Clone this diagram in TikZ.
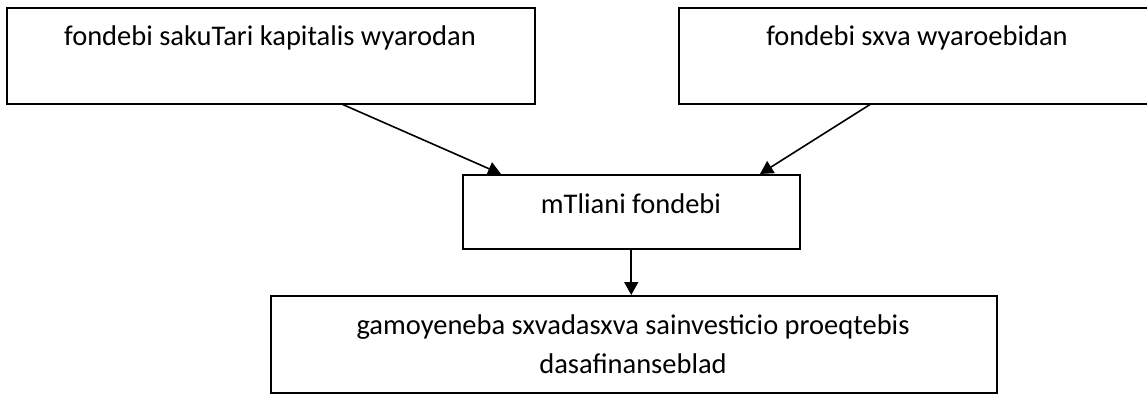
\documentclass[tikz,border=0pt]{standalone}
\usepackage{fontspec}
\setmainfont{Carlito}
\usetikzlibrary{arrows.meta}
\begin{document}
\begin{tikzpicture}[x=1pt,y=-1pt,
  box/.style={draw=black, line width=1.5pt, inner sep=0pt, anchor=north west},
  lbl/.style={font=\fontsize{28.5}{38}\selectfont, anchor=base, inner sep=0pt},
  link/.style={line width=1.6pt, -{Triangle[length=13pt,width=14pt]}}]
\useasboundingbox (0,0) rectangle (1147,394);
\clip (0,0) rectangle (1147,394);
% source boxes
\node[box, minimum width=528pt, minimum height=96pt] (own) at (6,7) {};
\node[box, minimum width=478pt, minimum height=96pt] (other) at (678,7) {};
% total funds
\node[box, minimum width=337pt, minimum height=74pt] (total) at (462,174) {};
% use of funds
\node[box, minimum width=726pt, minimum height=97pt] (use) at (270,295) {};
% labels
\node[lbl] (ownT) at (270,45) {fondebi sakuTari kapitalis wyarodan};
\node[lbl] (otherT) at (917,45) {fondebi sxva wyaroebidan};
\node[lbl] (totalT) at (631,213) {mTliani fondebi};
\node[lbl] (useT1) at (633,334) {gamoyeneba sxvadasxva sainvesticio proeqtebis};
\node[lbl] (useT2) at (633,373) {dasafinanseblad};
% connectors
\draw[link] ([xshift=72pt]own.south) -- ([xshift=39pt]total.north west);
\draw[link] ([xshift=192pt]other.south west) -- ([xshift=298pt]total.north west);
\draw[link] (total.south) -- (total.south |- use.north);
\end{tikzpicture}
\end{document}
